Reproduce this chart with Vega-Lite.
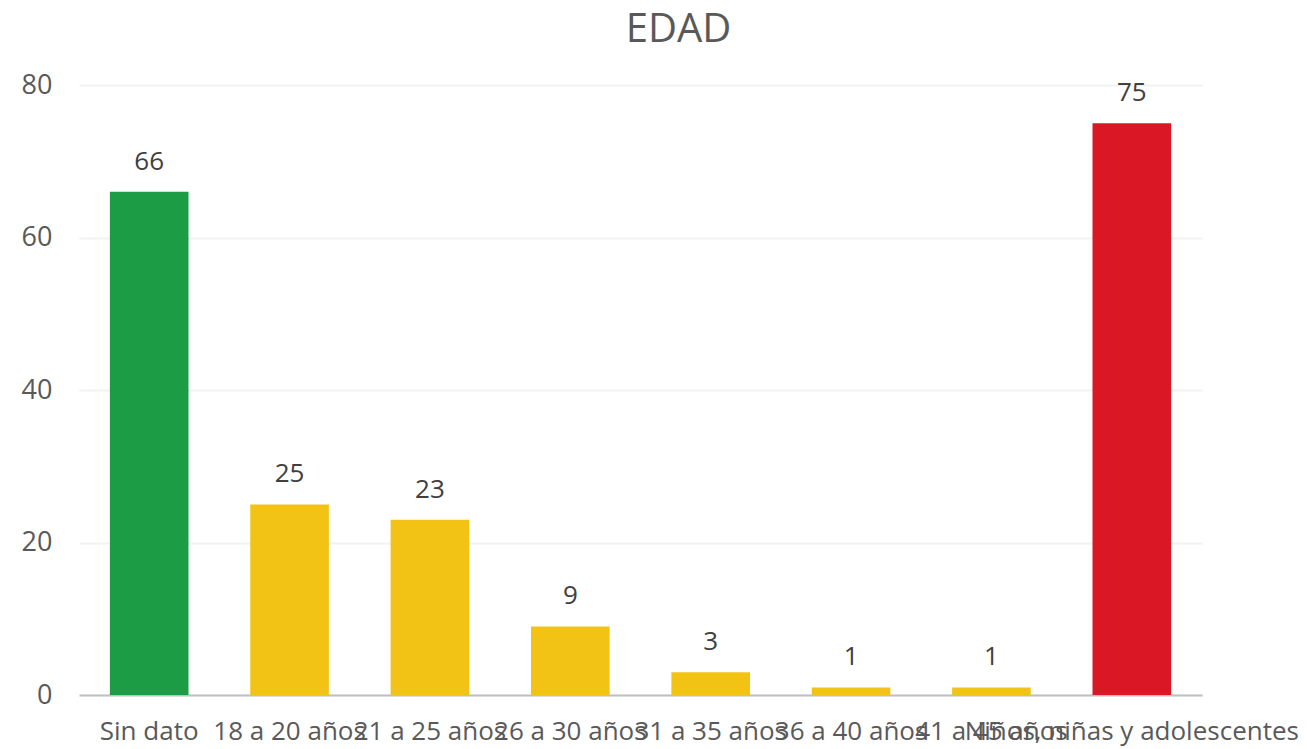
{
  "$schema": "https://vega.github.io/schema/vega-lite/v6.json",
  "width": 1123,
  "height": 610,
  "autosize": "none",
  "padding": {"left": 79, "top": 85, "right": 105, "bottom": 54},
  "background": "white",
  "config": {"view": {"stroke": null}, "font": "Open Sans"},
  "title": {"text": "EDAD", "fontSize": 40, "font": "Open Sans", "fontWeight": "normal", "color": "#595959", "anchor": "middle", "dx": 38, "offset": 21},
  "data": {"values": [
    {"cat": "Sin dato", "value": 66, "grp": "sd"},
    {"cat": "18 a 20 años", "value": 25, "grp": "age"},
    {"cat": "21 a 25 años", "value": 23, "grp": "age"},
    {"cat": "26 a 30 años", "value": 9, "grp": "age"},
    {"cat": "31 a 35 años", "value": 3, "grp": "age"},
    {"cat": "36 a 40 años", "value": 1, "grp": "age"},
    {"cat": "41 a 45 años", "value": 1, "grp": "age"},
    {"cat": "Niños, niñas y adolescentes", "value": 75, "grp": "nna"}
  ]},
  "encoding": {
    "x": {"field": "cat", "type": "nominal", "sort": null,
      "scale": {"paddingInner": 0.44, "paddingOuter": 0.22},
      "axis": {"title": null, "labelAngle": 0, "ticks": false, "labelPadding": 23, "labelFontSize": 26, "labelColor": "#595959", "labelLimit": 0, "labelOverlap": false, "labelBound": false, "domainColor": "#BFBFBF", "domainWidth": 2, "grid": false}},
    "y": {"field": "value", "type": "quantitative",
      "scale": {"domain": [0, 80]},
      "axis": {"title": null, "values": [0, 20, 40, 60, 80], "domain": false, "ticks": false, "labelPadding": 27, "labelFontSize": 27, "labelColor": "#595959", "gridColor": "#F2F2F2", "gridWidth": 2}}
  },
  "layer": [
    {"mark": {"type": "bar"},
     "encoding": {"color": {"field": "grp", "type": "nominal", "legend": null,
       "scale": {"domain": ["sd", "age", "nna"], "range": ["#1B9C45", "#F2C314", "#DA1725"]}}}},
    {"mark": {"type": "text", "dy": -17, "baseline": "bottom", "fontSize": 26, "color": "#404040"},
     "encoding": {"text": {"field": "value", "type": "quantitative"}}}
  ]
}
